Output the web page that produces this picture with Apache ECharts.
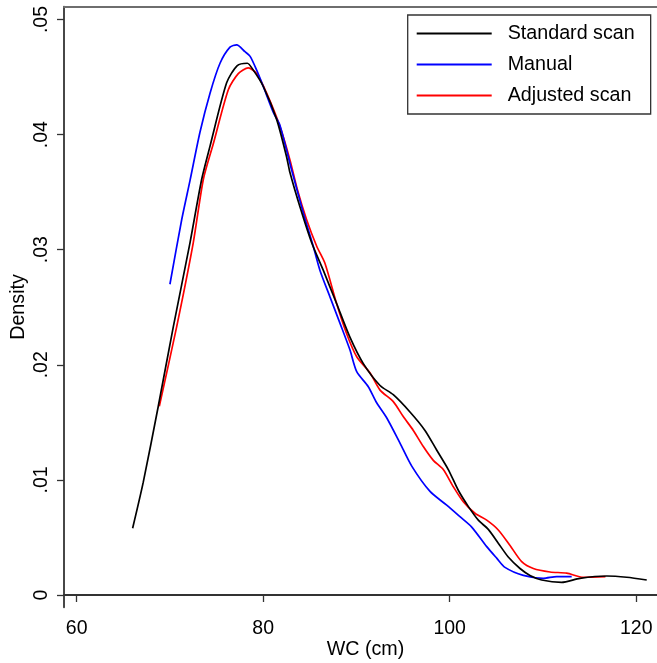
<!DOCTYPE html>
<html><head><meta charset="utf-8">
<script src="https://cdn.jsdelivr.net/npm/echarts@6/dist/echarts.min.js"></script>
<style>html,body{margin:0;padding:0;background:#fff}#c{width:657px;height:663px}</style>
</head><body><div id="c"></div>
<script>
const seriesNames = ['Standard scan', 'Manual', 'Adjusted scan'];
const seriesColors = ['#000000', '#0000ff', '#ff0000'];

const stdX = [66.0, 67.14, 68.75, 70.36, 72.15, 73.4, 74.3, 76.08, 77.22, 78.3, 78.94, 80.0, 81.45, 82.5, 82.87, 83.95, 85.2, 86.45, 87.88, 89.3, 90.74, 92.53, 93.95, 95.74, 97.35, 98.6, 99.85, 100.92, 101.99, 103.07, 104.14, 105.21, 106.28, 107.54, 108.61, 109.87, 112.0, 113.97, 116.84, 118.98, 121.13];
const stdY = [0.0058, 0.0098, 0.0164, 0.0233, 0.0306, 0.0361, 0.0390, 0.0445, 0.0460, 0.0462, 0.0456, 0.0442, 0.0413, 0.0381, 0.0367, 0.0337, 0.0306, 0.0282, 0.0253, 0.0224, 0.0201, 0.0182, 0.0174, 0.0159, 0.0143, 0.0126, 0.0109, 0.0091, 0.0077, 0.0065, 0.0057, 0.0045, 0.0033, 0.0023, 0.0017, 0.0013, 0.0011, 0.00145, 0.00165, 0.00154, 0.0013];

const manX = [70.0, 71.26, 72.15, 73.22, 74.3, 75.37, 76.44, 77.16, 78.05, 78.6, 79.3, 80.0, 81.1, 81.8, 83.06, 84.3, 85.37, 86.09, 87.16, 88.24, 89.3, 90.03, 91.27, 92.17, 93.24, 94.67, 95.93, 97.89, 99.68, 101.1, 102.36, 103.97, 105.04, 105.93, 107.9, 110.04, 111.47, 113.08];
const manY = [0.0270, 0.0326, 0.0360, 0.0402, 0.0436, 0.0462, 0.0476, 0.0478, 0.0472, 0.0468, 0.0456, 0.0442, 0.0419, 0.0408, 0.0369, 0.0332, 0.0303, 0.0282, 0.0259, 0.0236, 0.0213, 0.0194, 0.0181, 0.0167, 0.0154, 0.0132, 0.0112, 0.0090, 0.0078, 0.0068, 0.0059, 0.0042, 0.0032, 0.0024, 0.0017, 0.00145, 0.0016, 0.0016];

const adjX = [68.86, 70.72, 72.5, 73.58, 74.65, 76.26, 77.33, 78.4, 79.3, 80.37, 81.8, 82.87, 83.64, 84.66, 85.74, 86.63, 87.88, 88.95, 90.03, 91.45, 92.53, 93.95, 95.02, 96.1, 97.17, 98.24, 99.31, 100.39, 101.46, 102.71, 103.97, 105.21, 106.47, 107.72, 108.97, 110.76, 112.55, 114.33, 116.7];
const adjY = [0.0164, 0.0233, 0.0306, 0.0361, 0.0392, 0.0439, 0.0453, 0.0458, 0.0453, 0.0436, 0.0407, 0.0378, 0.0353, 0.0326, 0.0303, 0.0288, 0.0253, 0.0227, 0.0207, 0.0193, 0.0178, 0.0168, 0.0155, 0.0143, 0.0129, 0.0117, 0.0109, 0.0094, 0.0081, 0.0071, 0.0065, 0.00565, 0.0043, 0.0029, 0.0023, 0.0020, 0.0019, 0.00154, 0.0016];

const xTicks = [60, 80, 100, 120];
const xTickLabels = ['60', '80', '100', '120'];
const yTicks = [0, 0.01, 0.02, 0.03, 0.04, 0.05];
const yTickLabels = ['0', '.01', '.02', '.03', '.04', '.05'];
const xTitle = 'WC (cm)';
const yTitle = 'Density';

const FONT = '"Liberation Sans", Arial, Helvetica, sans-serif';
const zip = (xs, ys) => xs.map((x, i) => [x, ys[i]]);
const xs = [stdX, manX, adjX];
const ys = [stdY, manY, adjY];

const chart = echarts.init(document.getElementById('c'), null, {renderer: 'canvas'});
chart.setOption({
  animation: false,
  backgroundColor: '#ffffff',
  textStyle: {fontFamily: FONT},
  grid: {left: 64, right: 0, top: 6.7, bottom: 55.7, containLabel: false, outerBoundsMode: 'none'},
  legend: {
    orient: 'vertical',
    left: 407.7, top: 15,
    padding: [3, 16, 3, 9],
    itemGap: 0,
    itemWidth: 75, itemHeight: 2,
    icon: 'rect',
    borderColor: '#333', borderWidth: 1.3,
    backgroundColor: '#fff',
    textStyle: {fontFamily: FONT, fontSize: 19.7, lineHeight: 31, color: '#000', padding: [0, 0, 0, 11]},
    data: seriesNames
  },
  xAxis: [{
    type: 'value', min: 58.64, max: 122.23,
    name: xTitle, nameLocation: 'middle', nameGap: 32, nameMoveOverlap: false,
    nameTextStyle: {fontFamily: FONT, fontSize: 19.7, color: '#000', padding: [0, 0, 0, 10]},
    axisLine: {show: true, lineStyle: {color: '#333', width: 1.8}},
    axisTick: {show: true, length: 7, lineStyle: {color: '#333', width: 1.3}, customValues: xTicks},
    axisLabel: {fontFamily: FONT, fontSize: 19.5, color: '#000', margin: 11, customValues: xTicks,
      formatter: v => xTickLabels[xTicks.findIndex(t => Math.abs(t - v) < 1e-9)]},
    splitLine: {show: false}
  }, {
    type: 'value', position: 'top', min: 58.64, max: 122.23,
    axisLine: {show: true, lineStyle: {color: '#6e6e6e', width: 2}},
    axisTick: {show: false}, axisLabel: {show: false}, splitLine: {show: false}
  }],
  yAxis: {
    type: 'value', min: -0.001069, max: 0.051112,
    name: yTitle, nameLocation: 'middle', nameGap: 35, nameRotate: 90, nameMoveOverlap: false,
    nameTextStyle: {fontFamily: FONT, fontSize: 19.7, color: '#000'},
    axisLine: {show: true, lineStyle: {color: '#333', width: 1.8}},
    axisTick: {show: true, length: 7, lineStyle: {color: '#333', width: 1.3}, customValues: yTicks},
    axisLabel: {fontFamily: FONT, fontSize: 19.5, color: '#000', rotate: 90, margin: 12, customValues: yTicks,
      formatter: v => yTickLabels[yTicks.findIndex(t => Math.abs(t - v) < 1e-9)]},
    splitLine: {show: false}
  },
  series: seriesNames.map((n, i) => ({
    name: n, type: 'line', xAxisIndex: 0,
    data: zip(xs[i], ys[i]),
    symbol: 'none', smooth: 0.25,
    color: seriesColors[i],
    lineStyle: {color: seriesColors[i], width: 1.7},
    z: 3 - i
  }))
});
</script></body></html>
